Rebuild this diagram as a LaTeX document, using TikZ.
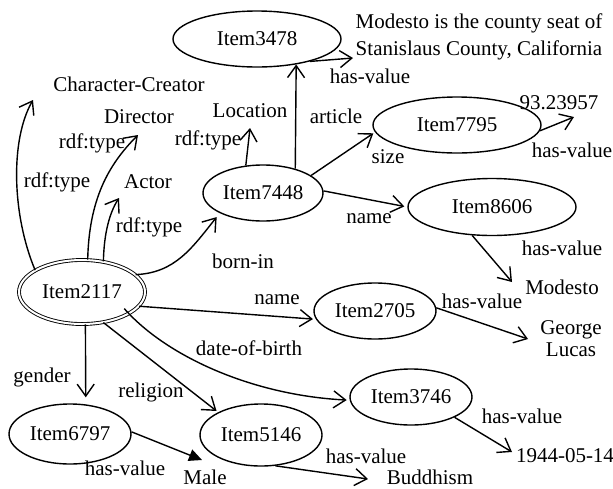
\documentclass[tikz,border=0pt]{standalone}
\usepackage{fontspec}
\setmainfont{Liberation Serif}
\usetikzlibrary{arrows.meta,shapes.geometric}
\tikzset{
  ent/.style={ellipse, draw, line width=1.4pt, inner sep=0pt, font=\fontsize{21}{24}\selectfont},
  ent2/.style={ellipse, draw, line width=0.9pt, double, double distance=2pt, inner sep=0pt, font=\fontsize{21}{24}\selectfont},
  lbl/.style={inner sep=0pt, anchor=base, font=\fontsize{21}{24}\selectfont},
  arr/.style={line width=1.4pt, line join=round, -{Straight Barb[length=12pt,width=17pt]}},
  tri/.style={line width=1.4pt, -{Triangle[length=13pt,width=12pt]}}
}
\begin{document}
\begin{tikzpicture}[x=1pt,y=-1pt]
\fill[white] (0,0) rectangle (613,488);
\useasboundingbox (0,0) rectangle (613,488);

% entity nodes
\node[ent, minimum width=168pt, minimum height=56pt] (i3478) at (257,39) {Item3478};
\node[ent, minimum width=120pt, minimum height=56pt] (i7448) at (263,193) {Item7448};
\node[ent, minimum width=168pt, minimum height=56pt] (i7795) at (457,125) {Item7795};
\node[ent, minimum width=168pt, minimum height=57pt] (i8606) at (492,207) {Item8606};
\node[ent2, minimum width=126pt, minimum height=64pt] (i2117) at (82,292) {Item2117};
\node[ent, minimum width=122pt, minimum height=56pt] (i2705) at (375,311) {Item2705};
\node[ent, minimum width=122pt, minimum height=56pt] (i3746) at (411,397) {Item3746};
\node[ent, minimum width=122pt, minimum height=60pt] (i6797) at (70,434) {Item6797};
\node[ent, minimum width=122pt, minimum height=62pt] (i5146) at (261,435) {Item5146};

% value / class texts
\node[lbl] (cc) at (129,91) {Character-Creator};
\node[lbl] (dir) at (139,123) {Director};
\node[lbl] (loc) at (250,117) {Location};
\node[lbl] (act) at (148,188) {Actor};
\node[inner sep=0pt, align=center, font=\fontsize{21}{27}\selectfont] (mod) at (479,37) {Modesto is the county seat of\\Stanislaus County, California};
\node[lbl] (n93) at (559,109) {93.23957};
\node[lbl] (modesto) at (562,294) {Modesto};
\node[inner sep=0pt, align=center, font=\fontsize{21}{22}\selectfont] (george) at (571,339) {George\\Lucas};
\node[lbl] (male) at (205,484) {Male};
\node[lbl] (budd) at (430,484) {Buddhism};
\node[lbl] (date) at (565,462) {1944-05-14};

% edge labels
\node[lbl] (rt1) at (92,148) {rdf:type};
\node[lbl] (rt2) at (208,145) {rdf:type};
\node[lbl] (rt3) at (57,187) {rdf:type};
\node[lbl] (rt4) at (149,232) {rdf:type};
\node[lbl] (hv1) at (370,83) {has-value};
\node[lbl] (art) at (336,123) {article};
\node[lbl] (sz) at (388,163) {size};
\node[lbl] (hv2) at (572,157) {has-value};
\node[lbl] (nm1) at (369,223) {name};
\node[lbl] (hv3) at (562,255) {has-value};
\node[lbl] (born) at (243,268) {born-in};
\node[lbl] (nm2) at (277,304) {name};
\node[lbl] (hv4) at (482,308) {has-value};
\node[lbl] (dob) at (249,355) {date-of-birth};
\node[lbl] (gen) at (42,382) {gender};
\node[lbl] (rel) at (151,397) {religion};
\node[lbl] (hv5) at (125,475) {has-value};
\node[lbl] (hv6) at (366,463) {has-value};
\node[lbl] (hv7) at (522,423) {has-value};

% arrow tips near texts
\coordinate (ccTip) at (33,100);
\coordinate (dirTip) at (138,135);
\coordinate (actTip) at (119,198);
\coordinate (locTip) at (250,128);
\coordinate (modTip) at (353,58);
\coordinate (n93Tip) at (574,117);
\coordinate (modestoTip) at (512,282);
\coordinate (georgeTip) at (528,339);
\coordinate (dateTip) at (512,452);
\coordinate (maleTip) at (202,460);
\coordinate (buddTip) at (368,479);

% connectors
\draw[arr] (i2117.155) .. controls (12,215) and (10,140) .. (ccTip);
\draw[arr] (i2117.80) .. controls (89,200) and (108,165) .. (dirTip);
\draw[arr] (i2117.55) .. controls (104,232) and (110,212) .. (actTip);
\draw[arr, shorten >=5pt] (i2117.18) .. controls (175,273) and (192,248) .. (i7448.205);
\draw[arr] (i7448.122) -- (locTip);
\draw[arr] (i7448.37) -- (i3478.-33);
\draw[arr, shorten >=2pt] (i7448.20) -- (i7795.185);
\draw[arr, shorten >=3pt] (i7448.2) -- (i8606.west);
\draw[arr] (i3478.-23) -- (modTip);
\draw[arr] (i7795.-4) -- (n93Tip);
\draw[arr] (i8606.235) -- (modestoTip);
\draw[arr, shorten >=3pt] (i2117.-14) -- (i2705.188);
\draw[arr] (i2705.3) -- (georgeTip);
\draw[arr, shorten <=-7pt, shorten >=3pt] (i2117.-25) .. controls (165,355) and (250,395) .. (i3746.183);
\draw[arr] (i3746.-25) -- (dateTip);
\draw[arr, shorten >=7pt] (i2117.-84) -- (i6797.62);
\draw[arr, shorten >=2pt] (i2117.-55) -- (i5146.152);
\draw[tri] (i6797.2) -- (maleTip);
\draw[arr] (i5146.-65) -- (buddTip);
\end{tikzpicture}
\end{document}
